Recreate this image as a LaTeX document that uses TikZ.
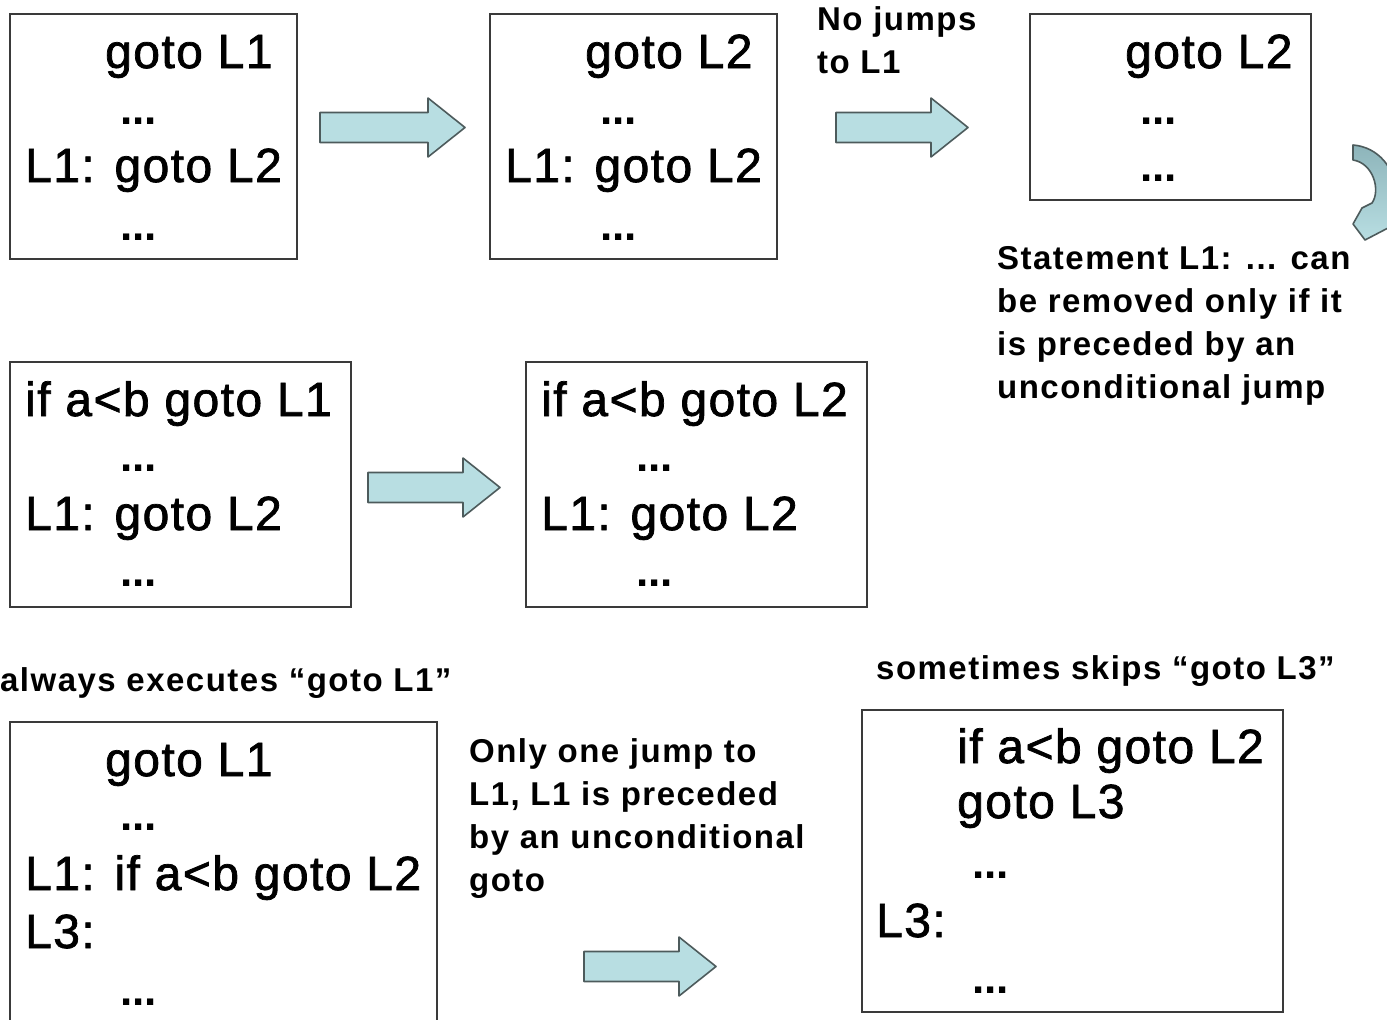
\documentclass[tikz,border=0pt]{standalone}
\usepackage{fontspec}
\newfontfamily\codefont{Liberation Sans}[LetterSpace=3, FakeBold=1.5]
\newfontfamily\dotfont{Liberation Sans Bold}
\newfontfamily\notefont{Liberation Sans}[LetterSpace=4.5]
\definecolor{boxgray}{HTML}{3A3A3A}
\definecolor{arrowgray}{HTML}{4D5B5C}
\definecolor{arrowfill}{HTML}{B8DEE2}
\definecolor{curvetop}{HTML}{8DB4BA}
\tikzset{
  codebox/.style={draw=boxgray, line width=1.3pt, inner sep=0pt},
  codeline/.style={anchor=base west, inner sep=0pt, font=\codefont\fontsize{48}{56}\selectfont},
  dots/.style={anchor=base west, inner sep=0pt, font=\dotfont\fontsize{44}{56}\selectfont},
  note/.style={anchor=north west, inner sep=0pt, align=left, font=\notefont\bfseries\fontsize{33}{43}\selectfont},
  blockarrow/.style={draw=arrowgray, line width=1.6pt, fill=arrowfill, line join=round}
}
\begin{document}
\begin{tikzpicture}[x=1pt, y=-1pt]
\useasboundingbox (0,0) rectangle (1387,1020);
\clip (0,0) rectangle (1387,1020);

% first row
\node[codebox, minimum width=287, minimum height=245] (boxA) at (153.5,136.5) {};
\node[codeline] (a1) at (105,68) {goto L1};
\node[dots] (a2) at (120,124) {...};
\node[codeline] (a3) at (25,182) {L1: goto L2};
\node[dots] (a4) at (120,240) {...};

\node[codebox, minimum width=287, minimum height=245] (boxB) at (633.5,136.5) {};
\node[codeline] (b1) at (585,68) {goto L2};
\node[dots] (b2) at (600,124) {...};
\node[codeline] (b3) at (505,182) {L1: goto L2};
\node[dots] (b4) at (600,240) {...};

\node[note] (nojump) at (817,6) {No jumps\\to L1};

\node[codebox, minimum width=281, minimum height=186] (boxC) at (1170.5,107) {};
\node[codeline] (c1) at (1125,68) {goto L2};
\node[dots] (c2) at (1140,124) {...};
\node[dots] (c3) at (1140,181) {...};

\node[note] (removed) at (997,246) {Statement L1: ... can\\be removed only if it\\is preceded by an\\unconditional jump};

% second row
\node[codebox, minimum width=341, minimum height=245] (boxD) at (180.5,484.5) {};
\node[codeline] (d1) at (25,416) {if a<b goto L1};
\node[dots] (d2) at (120,471) {...};
\node[codeline] (d3) at (25,530) {L1: goto L2};
\node[dots] (d4) at (120,586) {...};

\node[codebox, minimum width=341, minimum height=245] (boxE) at (696.5,484.5) {};
\node[codeline] (e1) at (541,416) {if a<b goto L2};
\node[dots] (e2) at (636,471) {...};
\node[codeline] (e3) at (541,530) {L1: goto L2};
\node[dots] (e4) at (636,586) {...};

% third row
\node[note] (always) at (0,667) {always executes “goto L1”};
\node[codebox, minimum width=427, minimum height=330] (boxF) at (223.5,887) {};
\node[codeline] (f1) at (105,776) {goto L1};
\node[dots] (f2) at (120,830) {...};
\node[codeline] (f3) at (25,890) {L1: if a<b goto L2};
\node[codeline] (f4) at (25,948) {L3:};
\node[dots] (f5) at (120,1005) {...};

\node[note] (onlyone) at (469,738) {Only one jump to\\L1, L1 is preceded\\by an unconditional\\goto};

\node[note] (sometimes) at (876,655) {sometimes skips “goto L3”};
\node[codebox, minimum width=421, minimum height=302] (boxG) at (1072.5,861) {};
\node[codeline] (g1) at (957,763) {if a<b goto L2};
\node[codeline] (g2) at (957,818) {goto L3};
\node[dots] (g3) at (972,878) {...};
\node[codeline] (g4) at (876,937) {L3:};
\node[dots] (g5) at (972,993) {...};

% block arrows
\foreach \x/\y/\l in {320/127.5/145, 836/127.5/132, 368/487.5/132, 584/966.5/132}
{
    \draw[blockarrow] (\x,\y-15) -- (\x+\l-37,\y-15) -- (\x+\l-37,\y-29.5) -- (\x+\l,\y)
        -- (\x+\l-37,\y+29.5) -- (\x+\l-37,\y+15) -- (\x,\y+15) -- cycle;
}

% curved arrow at the edge
\draw[draw=arrowgray, line width=1.6pt, line join=round, top color=curvetop, bottom color=arrowfill]
    (1353,145) .. controls (1378,147) and (1396,168) .. (1396,195) -- (1396,226) -- (1388,228)
    -- (1365,240) -- (1353,224) -- (1362,208) -- (1372,203)
    .. controls (1381,190) and (1373,163) .. (1353,160) -- cycle;

\end{tikzpicture}
\end{document}
